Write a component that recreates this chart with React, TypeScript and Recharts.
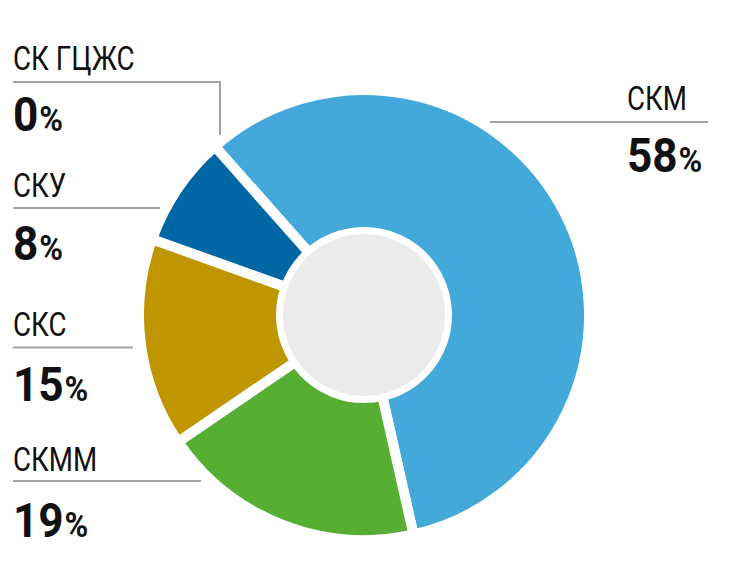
import { Cell, Pie, PieChart } from "recharts";

const names = ["СКМ", "СКММ", "СКС", "СКУ", "СК ГЦЖС"];
const shares = [58, 19, 15, 8, 0];
const colors = ["#43a8da", "#56ae33", "#bf9500", "#0067a5", "#0067a5"];

const data = names.map((name, i) => ({ name, value: shares[i] }));
const hub = [{ name: "hub", value: 1 }];

const FONT = "Roboto, 'Liberation Sans', sans-serif";
const lineColor = "#a3a3a3";
const squeeze = 0.84;

// where each label sits: name baseline, percent baseline, leader line points
const labelLayout = [
  { x: 627, nameY: 110, pctY: 172, line: "490,122 708,122" },
  { x: 13, nameY: 471, pctY: 537, line: "13,481 201,481" },
  { x: 13, nameY: 336, pctY: 401, line: "13,347.5 133,347.5" },
  { x: 13, nameY: 197, pctY: 260, line: "13,208 160,208" },
  { x: 13, nameY: 70, pctY: 131, line: "13,82 220,82 220,135" },
];

function renderLabel(props: any) {
  const l = labelLayout[props.index];
  const entry = data[props.index];
  return (
    <g key={entry.name}>
      <polyline points={l.line} fill="none" stroke={lineColor} strokeWidth={2} />
      <text
        transform={`translate(${l.x},${l.nameY}) scale(${squeeze},1)`}
        fontFamily={FONT}
        fontSize={33}
        fill="#111"
      >
        {entry.name}
      </text>
      <text
        transform={`translate(${l.x},${l.pctY}) scale(0.92,1)`}
        fontFamily={FONT}
        fill="#111"
        fontWeight="bold"
      >
        <tspan fontSize={48}>{entry.value}</tspan>
        <tspan fontSize={35} dx={1}>%</tspan>
      </text>
    </g>
  );
}

export default function App() {
  return (
    <div style={{ position: "absolute", left: 0, top: 0, background: "#fff" }}>
      <PieChart width={730} height={579} margin={{ top: 0, right: 0, bottom: 0, left: 0 }}>
        <Pie
          data={data}
          dataKey="value"
          cx={364}
          cy={315}
          startAngle={131.5}
          endAngle={-228.5}
          innerRadius={83}
          outerRadius={225}
          stroke="#fff"
          strokeWidth={10}
          label={renderLabel}
          labelLine={false}
          isAnimationActive={false}
        >
          {data.map((d, i) => (
            <Cell key={d.name} fill={colors[i]} />
          ))}
        </Pie>
        <Pie
          data={hub}
          dataKey="value"
          cx={364}
          cy={315}
          innerRadius={0}
          outerRadius={81}
          fill="#ebebeb"
          stroke="none"
          isAnimationActive={false}
        />
      </PieChart>
    </div>
  );
}
